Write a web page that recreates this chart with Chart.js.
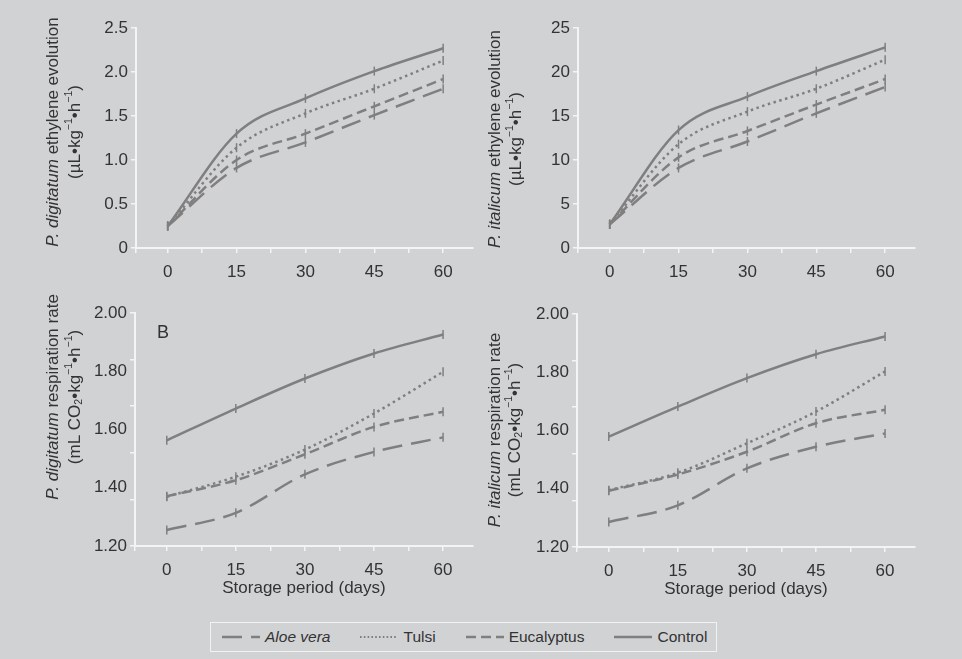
<!DOCTYPE html>
<html>
<head>
<meta charset="utf-8">
<script src="https://cdn.jsdelivr.net/npm/chart.js@4.4.1/dist/chart.umd.min.js"></script>
<style>
  html, body { margin: 0; padding: 0; background: #d1d2d4; }
  body { width: 962px; height: 659px; position: relative; overflow: hidden; font-family: "Liberation Sans", Arial, sans-serif; }
  canvas { position: absolute; }
  #legend {
    position: absolute; left: 210px; top: 622px; width: 507px; height: 30px;
    box-sizing: border-box; border: 1.5px solid #f2f2f2;
    display: flex; align-items: center; padding-left: 11px;
    font-size: 15.5px; color: #333; white-space: nowrap;
  }
  #legend .li { display: flex; align-items: center; margin-right: 30px; flex-shrink: 0; }
  #legend .li svg { margin-right: 5px; flex-shrink: 0; }
</style>
</head>
<body>
<canvas id="c1" width="481" height="290" style="left:0;top:0"></canvas>
<canvas id="c2" width="481" height="290" style="left:481px;top:0"></canvas>
<canvas id="c3" width="481" height="320" style="left:0;top:290px"></canvas>
<canvas id="c4" width="481" height="320" style="left:481px;top:290px"></canvas>
<div id="legend"></div>
<script>
  const FONT = '"Liberation Sans", Arial, sans-serif';
  const LINE_COLOR = "#7f7f7f";
  const AXIS = "#f4f4f4";

  // data
  const DAYS = [0, 15, 30, 45, 60];
  const SERIES = ["Aloe vera", "Tulsi", "Eucalyptus", "Control"];

  const digEthAloe    = [0.25, 0.91, 1.20, 1.51, 1.81];
  const digEthTulsi   = [0.25, 1.14, 1.53, 1.81, 2.13];
  const digEthEuc     = [0.25, 1.00, 1.30, 1.61, 1.92];
  const digEthControl = [0.25, 1.30, 1.70, 2.01, 2.27];

  const itaEthAloe    = [2.7, 9.1, 12.1, 15.3, 18.3];
  const itaEthTulsi   = [2.7, 11.8, 15.5, 18.1, 21.4];
  const itaEthEuc     = [2.7, 10.3, 13.3, 16.3, 19.2];
  const itaEthControl = [2.7, 13.4, 17.2, 20.1, 22.8];

  const digRespAloe    = [1.255, 1.314, 1.446, 1.523, 1.573];
  const digRespTulsi   = [1.369, 1.438, 1.531, 1.655, 1.798];
  const digRespEuc     = [1.371, 1.426, 1.515, 1.609, 1.661];
  const digRespControl = [1.563, 1.672, 1.775, 1.861, 1.926];

  const itaRespAloe    = [1.286, 1.343, 1.470, 1.544, 1.590];
  const itaRespTulsi   = [1.395, 1.455, 1.556, 1.665, 1.803];
  const itaRespEuc     = [1.393, 1.449, 1.527, 1.625, 1.671];
  const itaRespControl = [1.579, 1.682, 1.780, 1.862, 1.923];

  // ticks
  const X_MIN = -6.9, X_MAX = 66.5;
  const X_MARKS = [-6.9, 0, 7.5, 15, 22.5, 30, 37.5, 45, 52.5, 60];
  const X_LABELS = [0, 15, 30, 45, 60];
  const ETH_DIG_TICKS = [0, 0.5, 1, 1.5, 2, 2.5];
  const ETH_ITA_TICKS = [0, 5, 10, 15, 20, 25];
  const RESP_LABELS = [1.2, 1.4, 1.6, 1.8, 2.0];
  const RESP_MARKS = [1.2, 1.36, 1.52, 1.68, 1.84, 2.0];

  // line styles, same order as SERIES
  const DASHES = [[20, 9], [2.5, 3.5], [10, 5], []];

  Chart.defaults.font.family = FONT;
  Chart.defaults.font.size = 17;
  Chart.defaults.color = "#333";

  function near(arr, v){ return arr.some(a => Math.abs(a - v) < 1e-6); }

  // rotated axis titles with mixed italic / super / subscript parts
  const panelText = {
    id: "panelText",
    afterDraw(chart, args, opts){
      const ctx = chart.ctx;
      const size = opts.size || 17;
      ctx.save();
      ctx.fillStyle = "#333";
      ctx.textBaseline = "middle";
      ctx.textAlign = "left";
      (opts.lines || []).forEach(line => {
        const fonts = line.parts.map(p => {
          const s = (p.sup || p.sub) ? size * 0.62 : size;
          return (p.italic ? "italic " : "") + s + "px " + FONT;
        });
        const widths = line.parts.map((p, i) => { ctx.font = fonts[i]; return ctx.measureText(p.text).width; });
        const total = widths.reduce((a, b) => a + b, 0);
        ctx.save();
        ctx.translate(line.x, opts.cy);
        ctx.rotate(-Math.PI / 2);
        let x = -total / 2;
        line.parts.forEach((p, i) => {
          ctx.font = fonts[i];
          const dy = p.sup ? -size * 0.32 : (p.sub ? size * 0.22 : 0);
          ctx.fillText(p.text, x, dy);
          x += widths[i];
        });
        ctx.restore();
      });
      if (opts.tag){
        ctx.font = "18px " + FONT;
        ctx.textBaseline = "alphabetic";
        ctx.fillText(opts.tag.text, opts.tag.x, opts.tag.y);
      }
      ctx.restore();
    }
  };

  function buildChart(id, cfg){
    const yTicks = Array.from(new Set([...cfg.yLabels, ...cfg.yMarks])).sort((a, b) => a - b);
    return new Chart(document.getElementById(id), {
      type: "line",
      data: {
        datasets: SERIES.map((name, i) => ({
          label: name,
          data: DAYS.map((d, j) => ({ x: d, y: cfg.values[i][j] })),
          borderColor: LINE_COLOR,
          borderWidth: 2.5,
          borderDash: DASHES[i],
          cubicInterpolationMode: "monotone",
          fill: false,
          pointStyle: "line",
          pointRotation: 90,
          pointRadius: 4.5,
          pointBorderWidth: 1.5,
          pointBorderColor: LINE_COLOR
        }))
      },
      options: {
        responsive: false,
        animation: false,
        events: [],
        layout: { padding: cfg.pad },
        plugins: {
          legend: { display: false },
          tooltip: { enabled: false },
          panelText: cfg.text
        },
        scales: {
          x: {
            type: "linear", min: X_MIN, max: X_MAX,
            afterBuildTicks: s => { s.ticks = X_MARKS.map(v => ({ value: v })); },
            afterFit: s => { s.height = cfg.xh; },
            ticks: { autoSkip: false, maxRotation: 0, padding: 9,
              callback: v => near(X_LABELS, v) ? String(v) : "" },
            grid: { drawOnChartArea: false, color: AXIS, tickLength: 5, lineWidth: 1.5 },
            border: { color: AXIS, width: 2 },
            title: cfg.xTitle
              ? { display: true, text: cfg.xTitle, color: "#333", font: { size: 17 }, padding: { top: 0, bottom: 3 } }
              : { display: false }
          },
          y: {
            type: "linear", min: cfg.yMin, max: cfg.yMax,
            afterBuildTicks: s => { s.ticks = yTicks.map(v => ({ value: v })); },
            afterFit: s => { s.width = 45; },
            ticks: { autoSkip: false, padding: 3,
              callback: v => near(cfg.yLabels, v) ? cfg.fmt(v) : "" },
            grid: {
              drawOnChartArea: false, tickLength: 5, lineWidth: 1.5,
              color: AXIS,
              tickColor: c => near(cfg.yMarks, c.tick.value) ? AXIS : "rgba(0,0,0,0)"
            },
            border: { color: AXIS, width: 2 }
          }
        }
      },
      plugins: [panelText]
    });
  }

  const ethUnits = [{ text: "(µL•kg" }, { text: "−1", sup: true }, { text: "•h" }, { text: "−1", sup: true }, { text: ")" }];
  const respUnits = [{ text: "(mL CO" }, { text: "2", sub: true }, { text: "•kg" }, { text: "−1", sup: true },
                     { text: "•h" }, { text: "−1", sup: true }, { text: ")" }];

  buildChart("c1", {
    values: [digEthAloe, digEthTulsi, digEthEuc, digEthControl],
    yMin: 0, yMax: 2.5, yLabels: ETH_DIG_TICKS, yMarks: ETH_DIG_TICKS,
    fmt: v => v === 0 ? "0" : v.toFixed(1),
    pad: { left: 91, right: 8, top: 28, bottom: 2 }, xh: 40,
    text: { cy: 132, lines: [
      { x: 53, parts: [{ text: "P. digitatum", italic: true }, { text: " ethylene evolution" }] },
      { x: 75, parts: ethUnits } ] }
  });

  buildChart("c2", {
    values: [itaEthAloe, itaEthTulsi, itaEthEuc, itaEthControl],
    yMin: 0, yMax: 25, yLabels: ETH_ITA_TICKS, yMarks: ETH_ITA_TICKS,
    fmt: v => String(v),
    pad: { left: 52, right: 47, top: 28, bottom: 2 }, xh: 40,
    text: { cy: 139, lines: [
      { x: 14, parts: [{ text: "P. italicum", italic: true }, { text: " ethylene evolution" }] },
      { x: 35, parts: ethUnits } ] }
  });

  buildChart("c3", {
    values: [digRespAloe, digRespTulsi, digRespEuc, digRespControl],
    yMin: 1.2, yMax: 2.0, yLabels: RESP_LABELS, yMarks: RESP_MARKS,
    fmt: v => v.toFixed(2),
    pad: { left: 90, right: 8, top: 23, bottom: 8 }, xh: 56,
    xTitle: "Storage period (days)",
    text: { cy: 107, tag: { text: "B", x: 157, y: 48 }, lines: [
      { x: 53, parts: [{ text: "P. digitatum", italic: true }, { text: " respiration rate" }] },
      { x: 75, parts: respUnits } ] }
  });

  buildChart("c4", {
    values: [itaRespAloe, itaRespTulsi, itaRespEuc, itaRespControl],
    yMin: 1.2, yMax: 2.0, yLabels: RESP_LABELS, yMarks: RESP_MARKS,
    fmt: v => v.toFixed(2),
    pad: { left: 51, right: 47, top: 24, bottom: 7 }, xh: 56,
    xTitle: "Storage period (days)",
    text: { cy: 140, lines: [
      { x: 14, parts: [{ text: "P. italicum", italic: true }, { text: " respiration rate" }] },
      { x: 34, parts: respUnits } ] }
  });

  // html legend built from the series
  const legend = document.getElementById("legend");
  SERIES.forEach((name, i) => {
    const item = document.createElement("div");
    item.className = "li";
    const dash = DASHES[i].length ? DASHES[i].join(" ") : "none";
    const italic = name === "Aloe vera" ? "font-style:italic" : "";
    item.innerHTML =
      `<svg width="38" height="10"><line x1="0" y1="5" x2="38" y2="5" stroke="${LINE_COLOR}" ` +
      `stroke-width="${i === 1 ? 2 : 2.5}" stroke-dasharray="${i === 1 ? "1.6 2.2" : dash}"/></svg>` +
      `<span style="${italic}">${name}</span>`;
    legend.appendChild(item);
  });
</script>
</body>
</html>
